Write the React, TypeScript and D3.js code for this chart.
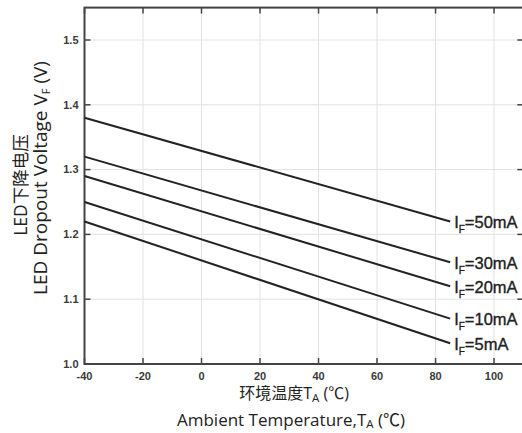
import React from "react";
import * as d3 from "d3";

const temps = [-40, 85];
const seriesNames = ["50mA", "30mA", "20mA", "10mA", "5mA"];
const v50 = [1.38, 1.22];
const v30 = [1.32, 1.157];
const v20 = [1.29, 1.12];
const v10 = [1.25, 1.07];
const v5 = [1.22, 1.032];
const xTicks = [-40, -20, 0, 20, 40, 60, 80, 100];
const yTicks = [1.0, 1.1, 1.2, 1.3, 1.4, 1.5];

const W = 522, H = 433;
const L = 84.5, R = 523.3, T = 7.6, B = 364;

export default function App() {
  const x = d3.scaleLinear().domain([-40, 110]).range([L, R]);
  const y = d3.scaleLinear().domain([1.0, 1.55]).range([B, T]);
  const series = [v50, v30, v20, v10, v5];
  const line = d3.line<number>().x((_, i) => x(temps[i])).y((d) => y(d));
  const tickFont = "'Liberation Sans', Arial, sans-serif";
  const titleFont = "'Open Sans', 'Noto Sans CJK SC', sans-serif";
  return (
    <svg width={W} height={H} style={{ position: "absolute", left: 0, top: 0, background: "#fff" }}>
      {xTicks.map((t) => (
        <line key={"gx" + t} x1={x(t)} x2={x(t)} y1={T} y2={B} stroke="#e2e2e2" strokeWidth={1} />
      ))}
      {yTicks.map((t) => (
        <line key={"gy" + t} x1={L} x2={R} y1={y(t)} y2={y(t)} stroke="#e2e2e2" strokeWidth={1} />
      ))}
      {xTicks.map((t) => (
        <g key={"tx" + t}>
          <line x1={x(t)} x2={x(t)} y1={B} y2={B - 6} stroke="#444" strokeWidth={1.5} />
          <line x1={x(t)} x2={x(t)} y1={T} y2={T + 6} stroke="#444" strokeWidth={1.5} />
          <text x={x(t)} y={B + 16} textAnchor="middle" fontFamily={tickFont} fontWeight="bold" fontSize={11} fill="#3a3a3a">
            {t}
          </text>
        </g>
      ))}
      {yTicks.map((t) => (
        <g key={"ty" + t}>
          <line x1={L} x2={L + 6} y1={y(t)} y2={y(t)} stroke="#444" strokeWidth={1.5} />
          <line x1={R} x2={R - 6} y1={y(t)} y2={y(t)} stroke="#444" strokeWidth={1.5} />
          <text x={L - 6} y={y(t)} dy="0.35em" textAnchor="end" fontFamily={tickFont} fontWeight="bold" fontSize={11} fill="#3a3a3a">
            {t.toFixed(1)}
          </text>
        </g>
      ))}
      <rect x={L} y={T} width={R - L} height={B - T} fill="none" stroke="#444" strokeWidth={2} />
      {series.map((s, i) => (
        <path key={"s" + i} d={line(s) || ""} fill="none" stroke="#222" strokeWidth={2} />
      ))}
      {series.map((s, i) => (
        <text key={"l" + i} x={x(temps[1]) + 4} y={y(s[1]) + 1} dy="0.35em" fontFamily={tickFont} fontSize={16.5} fill="#222" stroke="#222" strokeWidth={0.35}>
          I<tspan fontSize={10} dy="5">F</tspan>
          <tspan dy="-5">={seriesNames[i]}</tspan>
        </text>
      ))}
      <g transform={`translate(27, 185) rotate(-90)`}>
        <text x={0} y={0} textAnchor="middle" fontFamily={titleFont} fontSize={17.5} fill="#222">
          LED下降电压
        </text>
      </g>
      <g transform={`translate(47, 178) rotate(-90)`}>
        <text x={0} y={0} textAnchor="middle" fontFamily={titleFont} fontSize={19} fill="#222">
          LED Dropout Voltage V<tspan fontSize={11} dy="3">F</tspan>
          <tspan dy="-3"> (V)</tspan>
        </text>
      </g>
      <text x={294} y={399} textAnchor="middle" fontFamily={titleFont} fontSize={16} fill="#222">
        环境温度T<tspan fontSize={11.5} dy="3">A</tspan>
        <tspan dy="-3"> (℃)</tspan>
      </text>
      <text x={291} y={426} textAnchor="middle" fontFamily={titleFont} fontSize={17} fill="#222">
        Ambient Temperature,T<tspan fontSize={11.5} dy="2">A</tspan>
        <tspan dy="-2"> (℃)</tspan>
      </text>
    </svg>
  );
}
